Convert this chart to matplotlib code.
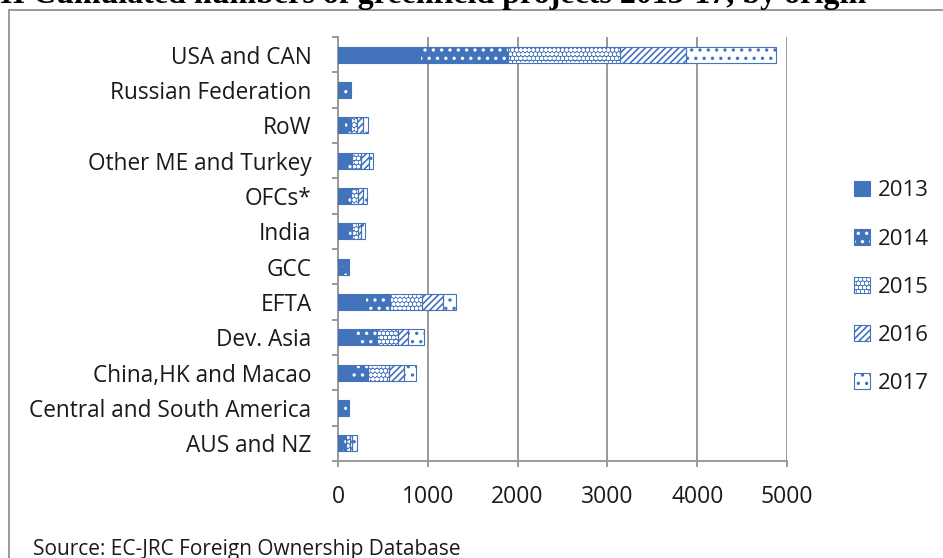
import numpy as np
import matplotlib
matplotlib.use("Agg")
import matplotlib.pyplot as plt
from matplotlib.patches import Patch, Rectangle

# origins, top to bottom as in the chart
origins = ["USA and CAN", "Russian Federation", "RoW", "Other ME and Turkey",
           "OFCs*", "India", "GCC", "EFTA", "Dev. Asia", "China,HK and Macao",
           "Central and South America", "AUS and NZ"]
years = ["2013", "2014", "2015", "2016", "2017"]

# number of greenfield projects per year
v2013 = [910, 45, 70, 100, 100, 110, 40, 300, 190, 150, 40, 40]
v2014 = [980, 70, 70, 60, 50, 50, 60, 280, 245, 185, 60, 50]
v2015 = [1245, 10, 70, 100, 70, 60, 8, 355, 235, 235, 8, 40]
v2016 = [745, 10, 70, 80, 60, 40, 7, 235, 110, 165, 7, 30]
v2017 = [1000, 10, 55, 50, 40, 40, 7, 145, 180, 135, 7, 50]

blue = "#4373BA"
# (face, hatch colour, hatch) per year
styles = [(blue, blue, None),
          (blue, "white", ".."),
          (blue, "white", "oooo"),
          ("white", blue, "/////"),
          ("white", blue, "..")]

plt.rcParams["font.family"] = ["Open Sans", "DejaVu Sans"]
plt.rcParams["hatch.linewidth"] = 1.2

fig = plt.figure(figsize=(9.43, 5.58), dpi=100)
ax = fig.add_axes([338 / 943, 1 - 461 / 558, 449 / 943, 424 / 558])

y = np.arange(len(origins))
left = np.zeros(len(origins))
handles = []
for vals, yr, (fc, hc, hatch) in zip([v2013, v2014, v2015, v2016, v2017], years, styles):
    vals = np.array(vals, dtype=float)
    ax.barh(y, vals, left=left, height=0.45, color=fc, edgecolor=hc,
            hatch=hatch, linewidth=0, zorder=3)
    ax.barh(y, vals, left=left, height=0.45, fill=False, edgecolor=blue,
            linewidth=0.8, zorder=4)
    left += vals
    handles.append((Patch(facecolor=fc, edgecolor=hc, hatch=hatch, linewidth=0),
                    Patch(fill=False, edgecolor=blue, linewidth=0.8)))

ax.set_ylim(len(origins) - 0.5, -0.5)
ax.set_xlim(0, 5000)
ax.set_xticks([0, 1000, 2000, 3000, 4000, 5000])
ax.set_yticks(y)
ax.set_yticklabels(origins)
ax.set_yticks(np.arange(-0.5, len(origins)), minor=True)

grey = "#999999"
ax.grid(axis="x", color=grey, linewidth=1.4, zorder=0)
for s in ["top", "right"]:
    ax.spines[s].set_visible(False)
for s in ["left", "bottom"]:
    ax.spines[s].set_color(grey)
    ax.spines[s].set_linewidth(1.4)
ax.tick_params(axis="y", which="major", length=0, pad=19, labelsize=16.3, labelcolor="#1a1a1a")
ax.tick_params(axis="y", which="minor", length=4, color=grey, width=1.4)
ax.tick_params(axis="x", length=4, color=grey, width=1.4, pad=13, labelsize=16.5,
               labelcolor="#1a1a1a")

leg = ax.legend(handles, years, loc="center left", bbox_to_anchor=(1.13, 0.41),
                frameon=False, fontsize=16, labelspacing=1.22, handlelength=0.7,
                handleheight=0.7, handletextpad=0.35, borderaxespad=0)
for t in leg.get_texts():
    t.set_color("#1a1a1a")

# outer frame of the chart box
fig.add_artist(Rectangle((9 / 943, -0.1), 0.999, 1.1 - 10 / 558, transform=fig.transFigure,
                         fill=False, edgecolor="#888888", linewidth=1.2))

fig.text(0.0, 1 - 3 / 558, "II Cumulated numbers of greenfield projects 2013-17, by origin",
         family="Liberation Serif", fontweight="bold", fontsize=23, va="baseline", ha="left")
fig.text(33 / 943, 1 - 549 / 558, "Source: EC-JRC Foreign Ownership Database",
         fontsize=15, va="center", ha="left", color="#1a1a1a")

fig.savefig("out.png", dpi=100)
